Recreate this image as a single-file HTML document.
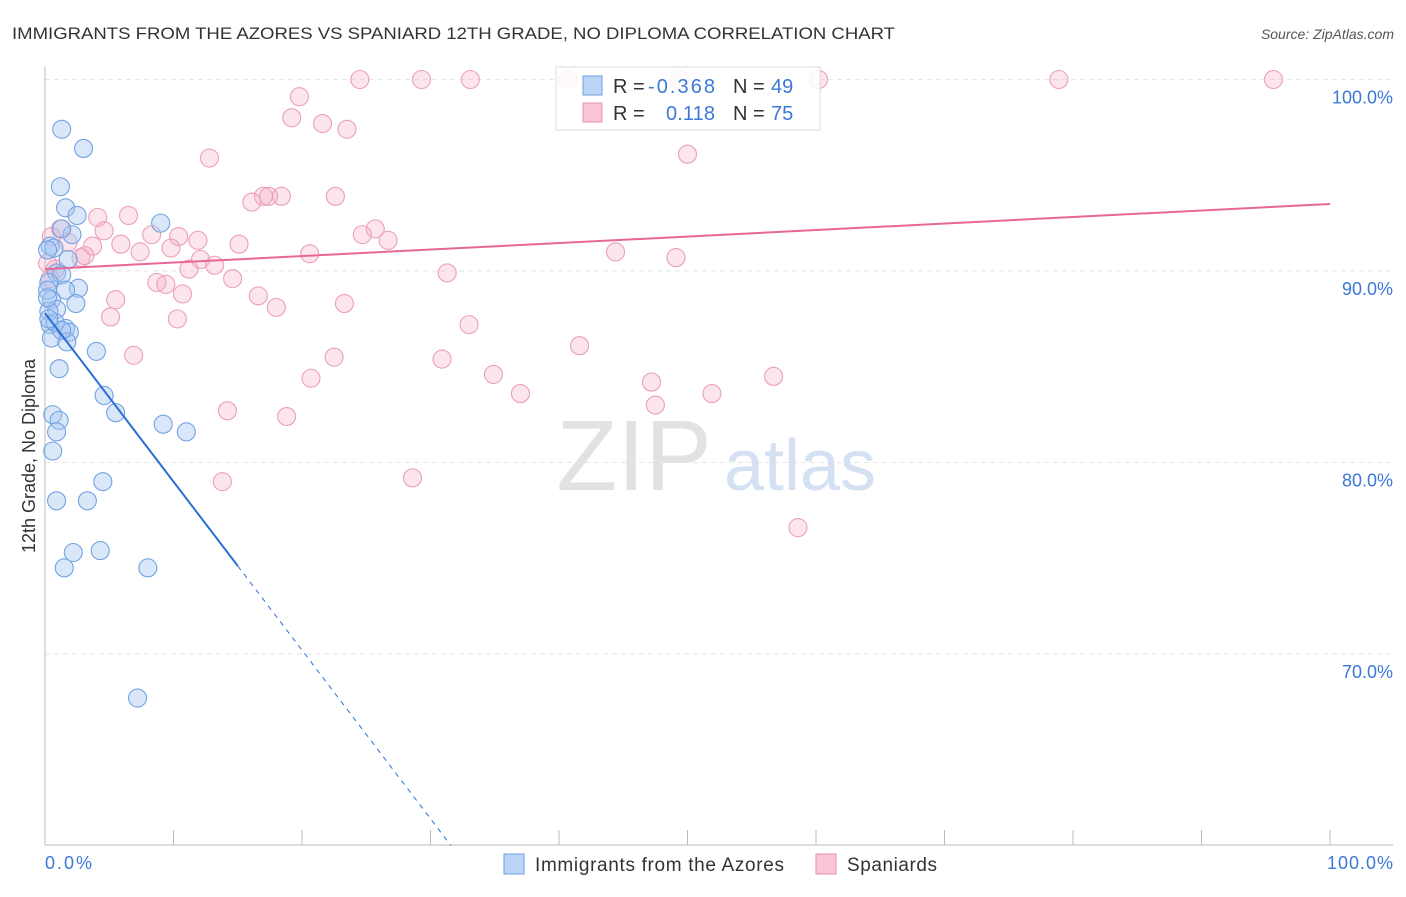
<!DOCTYPE html>
<html><head><meta charset="utf-8"><style>
body{margin:0;background:#fff;font-family:"Liberation Sans",sans-serif;}
svg text{font-family:"Liberation Sans",sans-serif;}
</style></head><body>
<svg width="1406" height="892">
<text x="12" y="39" font-size="17" fill="#333" textLength="883" lengthAdjust="spacingAndGlyphs">IMMIGRANTS FROM THE AZORES VS SPANIARD 12TH GRADE, NO DIPLOMA CORRELATION CHART</text>
<text x="1394" y="39" font-size="14" fill="#555" text-anchor="end" font-style="italic">Source: ZipAtlas.com</text>
<g id="grid"></g>
<text x="634" y="490" font-size="100" fill="#e2e2e2" font-family="Liberation Serif" text-anchor="middle">ZIP</text>
<text x="800" y="490" font-size="72" fill="#d3e1f3" text-anchor="middle">atlas</text>
<g id="pts"></g>
<g id="lines"></g>
<text transform="translate(35,456) rotate(-90)" font-size="18" fill="#333" text-anchor="middle">12th Grade, No Diploma</text>
<text x="45" y="869" font-size="18" fill="#3c78d8" textLength="47">0.0%</text>
<text x="1327" y="869" font-size="18" fill="#3c78d8" textLength="66">100.0%</text>
<g>
<rect x="556" y="67" width="264" height="63" fill="rgba(255,255,255,0.85)" stroke="#ddd"/>
<rect x="583" y="76" width="19" height="19" fill="#bcd4f5" stroke="#6a9fe0"/>
<rect x="583" y="103" width="19" height="19" fill="#f8c6d5" stroke="#e890ab"/>
<text x="613" y="93" font-size="20" fill="#333">R =</text><text x="648" y="93" font-size="20" fill="#3c78d8" textLength="67">-0.368</text>
<text x="733" y="93" font-size="20" fill="#333">N =</text><text x="771" y="93" font-size="20" fill="#3c78d8">49</text>
<text x="613" y="120" font-size="20" fill="#333">R =</text><text x="666" y="120" font-size="20" fill="#3c78d8" textLength="49">0.118</text>
<text x="733" y="120" font-size="20" fill="#333">N =</text><text x="771" y="120" font-size="20" fill="#3c78d8">75</text>
</g>
<g>
<rect x="504" y="854" width="20" height="20" fill="#bcd4f5" stroke="#6a9fe0"/>
<text x="535" y="871" font-size="19" fill="#333" textLength="249">Immigrants from the Azores</text>
<rect x="816" y="854" width="20" height="20" fill="#f8c6d5" stroke="#e890ab"/>
<text x="847" y="871" font-size="19" fill="#333" textLength="90">Spaniards</text>
</g>
</svg>
<script>
const blueX=[1.3,3.0,1.2,1.6,2.5,9.0,2.1,1.3,0.4,0.7,1.8,0.9,1.3,0.3,2.6,1.6,0.5,2.4,0.9,0.3,0.4,1.6,1.9,0.5,1.7,4.0,1.1,4.6,5.5,0.6,1.1,0.9,9.2,11.0,0.6,4.5,0.9,3.3,2.2,4.3,1.5,8.0,7.2,0.2,0.2,0.2,0.8,1.3,0.3];
const blueY=[97.4,96.4,94.4,93.3,92.9,92.5,91.9,92.2,91.3,91.2,90.6,89.9,89.8,89.4,89.1,89.0,88.5,88.3,88.0,87.9,87.2,87.0,86.8,86.5,86.3,85.8,84.9,83.5,82.6,82.5,82.2,81.6,82.0,81.6,80.6,79.0,78.0,78.0,75.3,75.4,74.5,74.5,67.7,89.0,91.1,88.6,87.3,86.9,87.5];
const pinkX=[24.5,29.3,33.1,40.7,49.4,60.2,78.9,95.6,19.8,19.2,21.6,23.5,12.8,50.0,17.0,17.4,16.1,18.4,22.6,4.1,6.5,1.2,4.6,25.7,8.3,10.4,24.7,11.9,15.1,26.7,5.9,3.7,1.8,9.8,7.4,2.8,44.4,49.1,20.6,12.1,3.1,13.2,11.2,31.3,14.6,8.7,9.4,10.7,16.6,5.5,23.3,18.0,5.1,10.3,33.0,41.6,6.9,22.5,30.9,20.7,34.9,47.2,56.7,37.0,51.9,47.5,14.2,18.8,28.6,13.8,58.6,0.8,0.4,0.5,0.2];
const pinkY=[100,100,100,100,100,100,100,100,99.1,98.0,97.7,97.4,95.9,96.1,93.9,93.9,93.6,93.9,93.9,92.8,92.9,92.2,92.1,92.2,91.9,91.8,91.9,91.6,91.4,91.6,91.4,91.3,91.5,91.2,91.0,90.7,91.0,90.7,90.9,90.6,90.8,90.3,90.1,89.9,89.6,89.4,89.3,88.8,88.7,88.5,88.3,88.1,87.6,87.5,87.2,86.1,85.6,85.5,85.4,84.4,84.6,84.2,84.5,83.6,83.6,83.0,82.7,82.4,79.2,79.0,76.6,90.1,89.6,91.8,90.4];
const yTicks=[100,90,80,70];
const yTickLabels=["100.0%","90.0%","80.0%","70.0%"];
const blueFit=[87.8,-0.88];
const pinkFit=[90.1,0.034];
const NS="http://www.w3.org/2000/svg";
const sx=v=>45+v*12.85, sy=v=>79.5+(100-v)*19.15;
function mk(tag,attrs,parent){const e=document.createElementNS(NS,tag);for(const k in attrs)e.setAttribute(k,attrs[k]);parent.appendChild(e);return e;}
const grid=document.getElementById('grid');
yTicks.forEach((t,i)=>{
 const l=mk('line',{x1:45,x2:1393,y1:sy(t),y2:sy(t),stroke:'#e6e6e6','stroke-dasharray':'5,4'},grid);
 
 
 const tx=mk('text',{x:1393,y:sy(t)+24,'font-size':18,fill:'#3c78d8','text-anchor':'end'},grid);
 tx.textContent=yTickLabels[i];
 
 
});
const ax=mk('line',{x1:45,x2:1393,y1:845,y2:845,stroke:'#bbb'},grid);


const ay=mk('line',{x1:45,x2:45,y1:67,y2:845,stroke:'#bbb'},grid);


for(let i=0;i<=10;i++){const t=mk('line',{x1:sx(i*10),x2:sx(i*10),y1:830,y2:845,stroke:'#bbb'},grid);
 
 }
const pts=document.getElementById('pts');
pinkX.forEach((x,i)=>{const c=mk('circle',{cx:sx(x),cy:sy(pinkY[i]),r:9,fill:'rgba(244,170,195,0.3)',stroke:'#eba0b8','stroke-width':1.1},pts);
 
 });
blueX.forEach((x,i)=>{const c=mk('circle',{cx:sx(x),cy:sy(blueY[i]),r:9,fill:'rgba(165,198,240,0.42)',stroke:'#72a3e2','stroke-width':1.1},pts);
 
 });
const lines=document.getElementById('lines');
const bf=x=>blueFit[0]+blueFit[1]*x, pf=x=>pinkFit[0]+pinkFit[1]*x;
const xEnd=(60-blueFit[0])/blueFit[1];
const b1=mk('line',{x1:sx(0),y1:sy(bf(0)),x2:sx(15),y2:sy(bf(15)),stroke:'#2a6fd6','stroke-width':2},lines);


const b2=mk('line',{x1:sx(15),y1:sy(bf(15)),x2:sx(xEnd),y2:sy(bf(xEnd)),stroke:'#2a6fd6','stroke-width':1,'stroke-dasharray':'5,5'},lines);


const p1=mk('line',{x1:sx(0),y1:sy(pf(0)),x2:sx(100),y2:sy(pf(100)),stroke:'#e8679a','stroke-width':2},lines);


</script>
</body></html>
